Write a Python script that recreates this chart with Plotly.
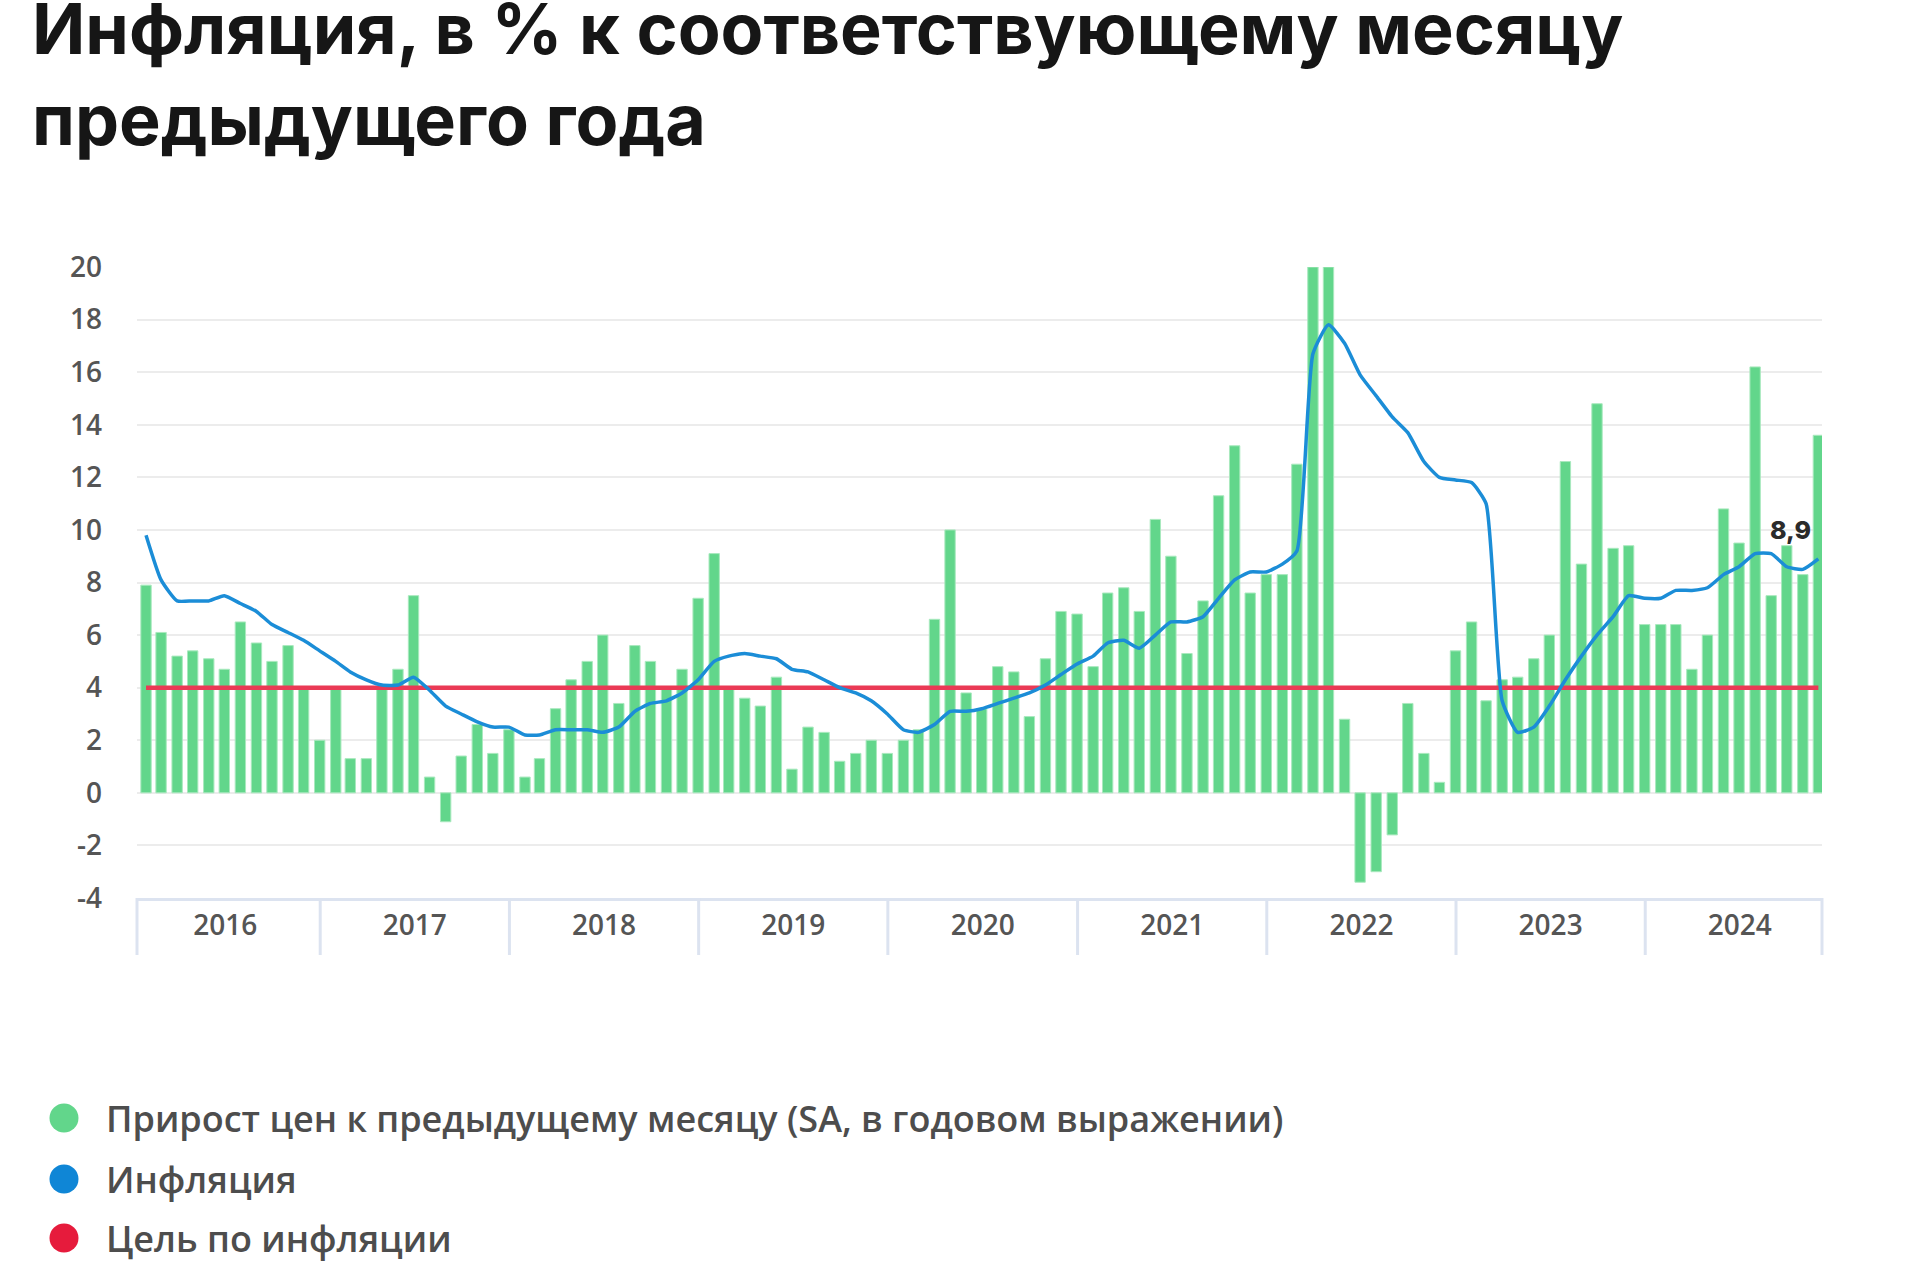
import pandas as pd
import plotly.graph_objects as go

# ---------------- data ----------------
start_month = "2016-01-31"
n_months = 107  # Jan 2016 .. Nov 2024 (points at month end)

# Прирост цен к предыдущему месяцу (SA, в годовом выражении), %
mom_saar = [
    7.9, 6.1, 5.2, 5.4, 5.1, 4.7, 6.5, 5.7, 5.0, 5.6, 4.0, 2.0,      # 2016
    4.0, 1.3, 1.3, 4.0, 4.7, 7.5, 0.6, -1.1, 1.4, 2.6, 1.5, 2.4,     # 2017
    0.6, 1.3, 3.2, 4.3, 5.0, 6.0, 3.4, 5.6, 5.0, 4.0, 4.7, 7.4,      # 2018
    9.1, 4.0, 3.6, 3.3, 4.4, 0.9, 2.5, 2.3, 1.2, 1.5, 2.0, 1.5,      # 2019
    2.0, 2.4, 6.6, 10.0, 3.8, 3.2, 4.8, 4.6, 2.9, 5.1, 6.9, 6.8,     # 2020
    4.8, 7.6, 7.8, 6.9, 10.4, 9.0, 5.3, 7.3, 11.3, 13.2, 7.6, 8.3,   # 2021
    8.3, 12.5, 20.0, 20.0, 2.8, -3.4, -3.0, -1.6, 3.4, 1.5, 0.4, 5.4,  # 2022
    6.5, 3.5, 4.3, 4.4, 5.1, 6.0, 12.6, 8.7, 14.8, 9.3, 9.4, 6.4,    # 2023
    6.4, 6.4, 4.7, 6.0, 10.8, 9.5, 16.2, 7.5, 9.4, 8.3, 13.6,        # 2024
]

# Инфляция, % г/г
inflation = [
    9.8, 8.1, 7.3, 7.3, 7.3, 7.5, 7.2, 6.9, 6.4, 6.1, 5.8, 5.4,
    5.0, 4.6, 4.3, 4.1, 4.1, 4.4, 3.9, 3.3, 3.0, 2.7, 2.5, 2.5,
    2.2, 2.2, 2.4, 2.4, 2.4, 2.3, 2.5, 3.1, 3.4, 3.5, 3.8, 4.3,
    5.0, 5.2, 5.3, 5.2, 5.1, 4.7, 4.6, 4.3, 4.0, 3.8, 3.5, 3.0,
    2.4, 2.3, 2.6, 3.1, 3.1, 3.2, 3.4, 3.6, 3.8, 4.1, 4.5, 4.9,
    5.2, 5.7, 5.8, 5.5, 6.0, 6.5, 6.5, 6.7, 7.4, 8.1, 8.4, 8.4,
    8.7, 9.2, 16.7, 17.8, 17.1, 15.9, 15.1, 14.3, 13.7, 12.6, 12.0, 11.9,
    11.8, 11.0, 3.5, 2.3, 2.5, 3.3, 4.3, 5.2, 6.0, 6.7, 7.5, 7.4,
    7.4, 7.7, 7.7, 7.8, 8.3, 8.6, 9.1, 9.1, 8.6, 8.5, 8.9,
]

# Цель по инфляции, %
target = [4.0] * n_months

years = [2016, 2017, 2018, 2019, 2020, 2021, 2022, 2023, 2024]
y_ticks = list(range(-4, 21, 2))
y_tick_labels = [str(v) for v in y_ticks]

series_names = [
    "Прирост цен к предыдущему месяцу (SA, в годовом выражении)",
    "Инфляция",
    "Цель по инфляции",
]
title_text = "Инфляция, в % к соответствующему месяцу<br>предыдущего года"

# ---------------- styles ----------------
GREEN = "#62d68b"
BLUE = "#1b8dd7"
RED = "#ea3a55"
LEG_COLORS = ["#62d68b", "#0f86d6", "#e61b3c"]

W, H = 1920, 1280
ML, MR, MT, MB = 137, 98, 267, 382
PW, PH = W - ML - MR, H - MT - MB


def px_x(p):
    return (p - ML) / PW


def px_y(p):
    return (H - MB - p) / PH


months = pd.date_range(start_month, periods=n_months, freq="ME")

fig = go.Figure()
fig.add_trace(go.Bar(
    x=months, y=mom_saar, name=series_names[0],
    marker=dict(color=GREEN, line=dict(color="#a9e9be", width=1)),
    width=20 * 86400000, showlegend=False,
))
fig.add_trace(go.Scatter(
    x=months, y=target, name=series_names[2], mode="lines",
    line=dict(color=RED, width=4.5), showlegend=False,
))
fig.add_trace(go.Scatter(
    x=months, y=inflation, name=series_names[1], mode="lines",
    line=dict(color=BLUE, width=3.5, shape="spline", smoothing=0.5),
    showlegend=False,
))

# last value label
fig.add_annotation(
    x=months[-1], y=inflation[-1], xref="x", yref="y",
    text=f"{inflation[-1]:.1f}".replace(".", ","), showarrow=False,
    xshift=-28, yshift=29,
    font=dict(family="Inter", size=25, color="#2b2b2b", weight=800),
)

# title
fig.add_annotation(
    xref="paper", yref="paper", x=px_x(30), y=px_y(-16),
    xanchor="left", yanchor="top", align="left", showarrow=False,
    text=title_text,
    font=dict(family="Inter", size=70, color="#161616", weight=700),
)

# custom legend
leg_y = [1118, 1179, 1238]
for name, col, yy in zip(series_names, LEG_COLORS, leg_y):
    fig.add_shape(
        type="circle", xref="paper", yref="paper",
        xsizemode="pixel", ysizemode="pixel",
        xanchor=px_x(64), yanchor=px_y(yy),
        x0=-14.5, x1=14.5, y0=-14.5, y1=14.5,
        fillcolor=col, line=dict(width=0),
    )
    fig.add_annotation(
        xref="paper", yref="paper", x=px_x(104), y=px_y(yy),
        xanchor="left", yanchor="middle", showarrow=False, text=name,
        font=dict(family="Open Sans", size=36, color="#4d4d4d", weight=600),
    )

# year separators under the axis
sep_len = 57 / PH
for yr in years[1:]:
    fig.add_shape(type="line", xref="x", yref="paper",
                  x0=f"{yr}-01-01", x1=f"{yr}-01-01", y0=0, y1=-sep_len,
                  line=dict(color="#dce3f0", width=3))
for xe in (0, 1):
    fig.add_shape(type="line", xref="paper", yref="paper",
                  x0=xe, x1=xe, y0=0, y1=-sep_len,
                  line=dict(color="#dce3f0", width=3))

fig.update_layout(
    width=W, height=H,
    margin=dict(l=ML, r=MR, t=MT, b=MB, autoexpand=False),
    paper_bgcolor="white", plot_bgcolor="white",
    bargap=0.3, showlegend=False,
    font=dict(family="Open Sans", color="#555"),
)
fig.update_xaxes(
    type="date",
    range=["2016-01-13 14:00", "2024-12-07 00:00"],
    tick0="2016-01-01", dtick="M12", tickformat="%Y",
    ticklabelmode="period", ticks="", showgrid=False,
    showline=True, linecolor="#dce3f0", linewidth=3,
    tickfont=dict(family="Open Sans", size=28, color="#555", weight=600),
    ticklabelstandoff=0,
)
fig.update_yaxes(
    range=[-4, 20], tickvals=y_ticks, ticktext=y_tick_labels,
    showgrid=True, gridcolor="#ececec", gridwidth=2, zeroline=False,
    ticks="", ticklabelstandoff=34,
    tickfont=dict(family="Open Sans", size=28, color="#555", weight=600),
)

fig.write_html("out.html")
